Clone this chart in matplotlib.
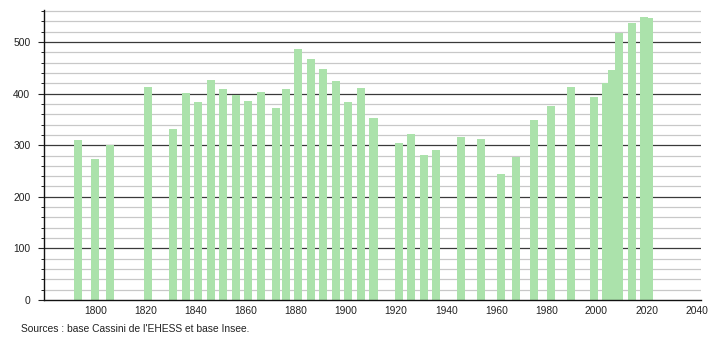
import matplotlib
matplotlib.use("Agg")
import matplotlib.pyplot as plt
from matplotlib.ticker import MultipleLocator

years = [1793, 1800, 1806, 1821, 1831, 1836, 1841, 1846, 1851, 1856,
         1861, 1866, 1872, 1876, 1881, 1886, 1891, 1896, 1901, 1906,
         1911, 1921, 1926, 1931, 1936, 1946, 1954, 1962, 1968, 1975,
         1982, 1990, 1999, 2004, 2006, 2009, 2014, 2019, 2021]
population = [310, 274, 301, 413, 332, 401, 384, 427, 409, 397,
              386, 404, 373, 409, 486, 468, 448, 425, 384, 411,
              353, 304, 322, 281, 291, 316, 312, 245, 278, 348,
              375, 413, 394, 420, 446, 518, 537, 548, 546]
xticks = [1800, 1820, 1840, 1860, 1880, 1900, 1920, 1940, 1960, 1980, 2000, 2020, 2040]
yticks = [0, 100, 200, 300, 400, 500]
source_text = "Sources : base Cassini de l'EHESS et base Insee."

plt.rcParams['font.family'] = ['Liberation Sans', 'DejaVu Sans']

fig = plt.figure(figsize=(7.1, 3.4), dpi=100)
ax = fig.add_axes([44.3 / 710, 40 / 340, 656.4 / 710, 290 / 340])

ax.set_xlim(1779.6, 2041.6)
ax.set_ylim(0, 562)

# grid
for v in range(20, 561, 20):
    if v % 100 == 0:
        ax.axhline(v, color='#3a3a3a', lw=0.9, zorder=1)
    else:
        ax.axhline(v, color='#c8c8c8', lw=0.9, zorder=1)

ax.bar(years, population, width=3.2, color='#abe2ab', edgecolor='none', zorder=2)

ax.set_xticks(xticks)
ax.set_xticklabels([str(t) for t in xticks])
ax.set_yticks(yticks)
ax.yaxis.set_minor_locator(MultipleLocator(20))

ax.tick_params(axis='x', length=0, pad=4, labelsize=7.4, colors='#222222')
ax.tick_params(axis='y', which='major', length=4, width=0.8, pad=6, labelsize=7.4, colors='#222222')
ax.tick_params(axis='y', which='minor', length=2.2, width=0.7, color='#222222')

for s in ['top', 'right']:
    ax.spines[s].set_visible(False)
ax.spines['left'].set_color('#111111')
ax.spines['bottom'].set_color('#111111')
ax.spines['left'].set_linewidth(1.0)
ax.spines['bottom'].set_linewidth(1.0)
ax.set_axisbelow(False)
ax.spines['left'].set_zorder(3)
ax.spines['bottom'].set_zorder(3)

fig.text(21 / 710, 1 - 329 / 340, source_text, fontsize=7.4, va='center', ha='left', color='#222222')

fig.savefig('out.png', dpi=100, facecolor='white')
